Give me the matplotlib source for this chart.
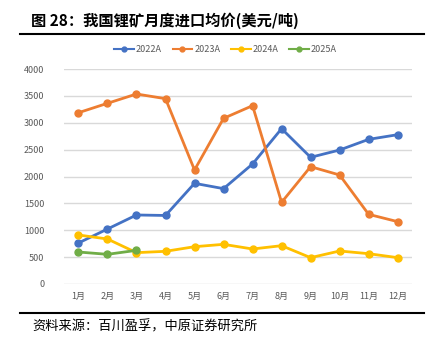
import matplotlib
matplotlib.use("Agg")
import matplotlib.pyplot as plt
from matplotlib.lines import Line2D

plt.rcParams['font.family'] = ['Noto Sans CJK SC', 'DejaVu Sans']

months = ["1月", "2月", "3月", "4月", "5月", "6月", "7月", "8月", "9月", "10月", "11月", "12月"]
s2022 = [763, 1023, 1284, 1275, 1873, 1774, 2233, 2890, 2357, 2493, 2691, 2778]
s2023 = [3187, 3362, 3535, 3448, 2121, 3082, 3318, 1519, 2183, 2028, 1296, 1160]
s2024 = [912, 837, 583, 608, 694, 738, 651, 713, 490, 614, 564, 490]
s2025 = [595, 552, 626]
series_names = ["2022A", "2023A", "2024A", "2025A"]
colors = ["#4472C4", "#ED7D31", "#FFC000", "#70AD47"]
yticks = [0, 500, 1000, 1500, 2000, 2500, 3000, 3500, 4000]

fig = plt.figure(figsize=(4.38, 3.51), dpi=100)
ax = fig.add_axes([0.146, 0.1909, 0.795, 0.6125])

x = list(range(1, 13))
for data, c in zip([s2022, s2023, s2024, s2025], colors):
    ax.plot(x[:len(data)], data, color=c, lw=2, marker='o', ms=5, zorder=3)

ax.set_xlim(0.5, 12.5)
ax.set_ylim(0, 4000)
ax.set_yticks(yticks)
ax.set_xticks(x)
ax.set_xticklabels(months)
ax.grid(axis='y', color='#d9d9d9', lw=1)
ax.set_axisbelow(True)
for s in ax.spines.values():
    s.set_visible(False)
ax.tick_params(axis='both', length=0, labelsize=6.5, colors='#595959')
ax.tick_params(axis='y', pad=14)
ax.tick_params(axis='x', pad=6)

handles = [Line2D([], [], color=c, lw=1.5, marker='o', ms=3.5) for c in colors]
fig.legend(handles, series_names, loc='center', bbox_to_anchor=(0.515, 1 - 50 / 351),
           ncol=4, frameon=False, fontsize=6.5, handlelength=2.2, handletextpad=0.2,
           columnspacing=1.2, labelcolor='#595959')

fig.text(31 / 438, 1 - 21 / 351, "图 28：我国锂矿月度进口均价(美元/吨)", fontsize=11,
         fontweight='bold', va='center', ha='left')
fig.add_artist(Line2D([20 / 438, 424 / 438], [1 - 34 / 351, 1 - 34 / 351], color='black', lw=1.5))
fig.add_artist(Line2D([20 / 438, 424 / 438], [1 - 313 / 351, 1 - 313 / 351], color='black', lw=1.5))
fig.text(32 / 438, 1 - 327 / 351, "资料来源：百川盈孚，中原证券研究所", fontsize=9.5,
         va='center', ha='left')

fig.savefig("out.png", dpi=100)
